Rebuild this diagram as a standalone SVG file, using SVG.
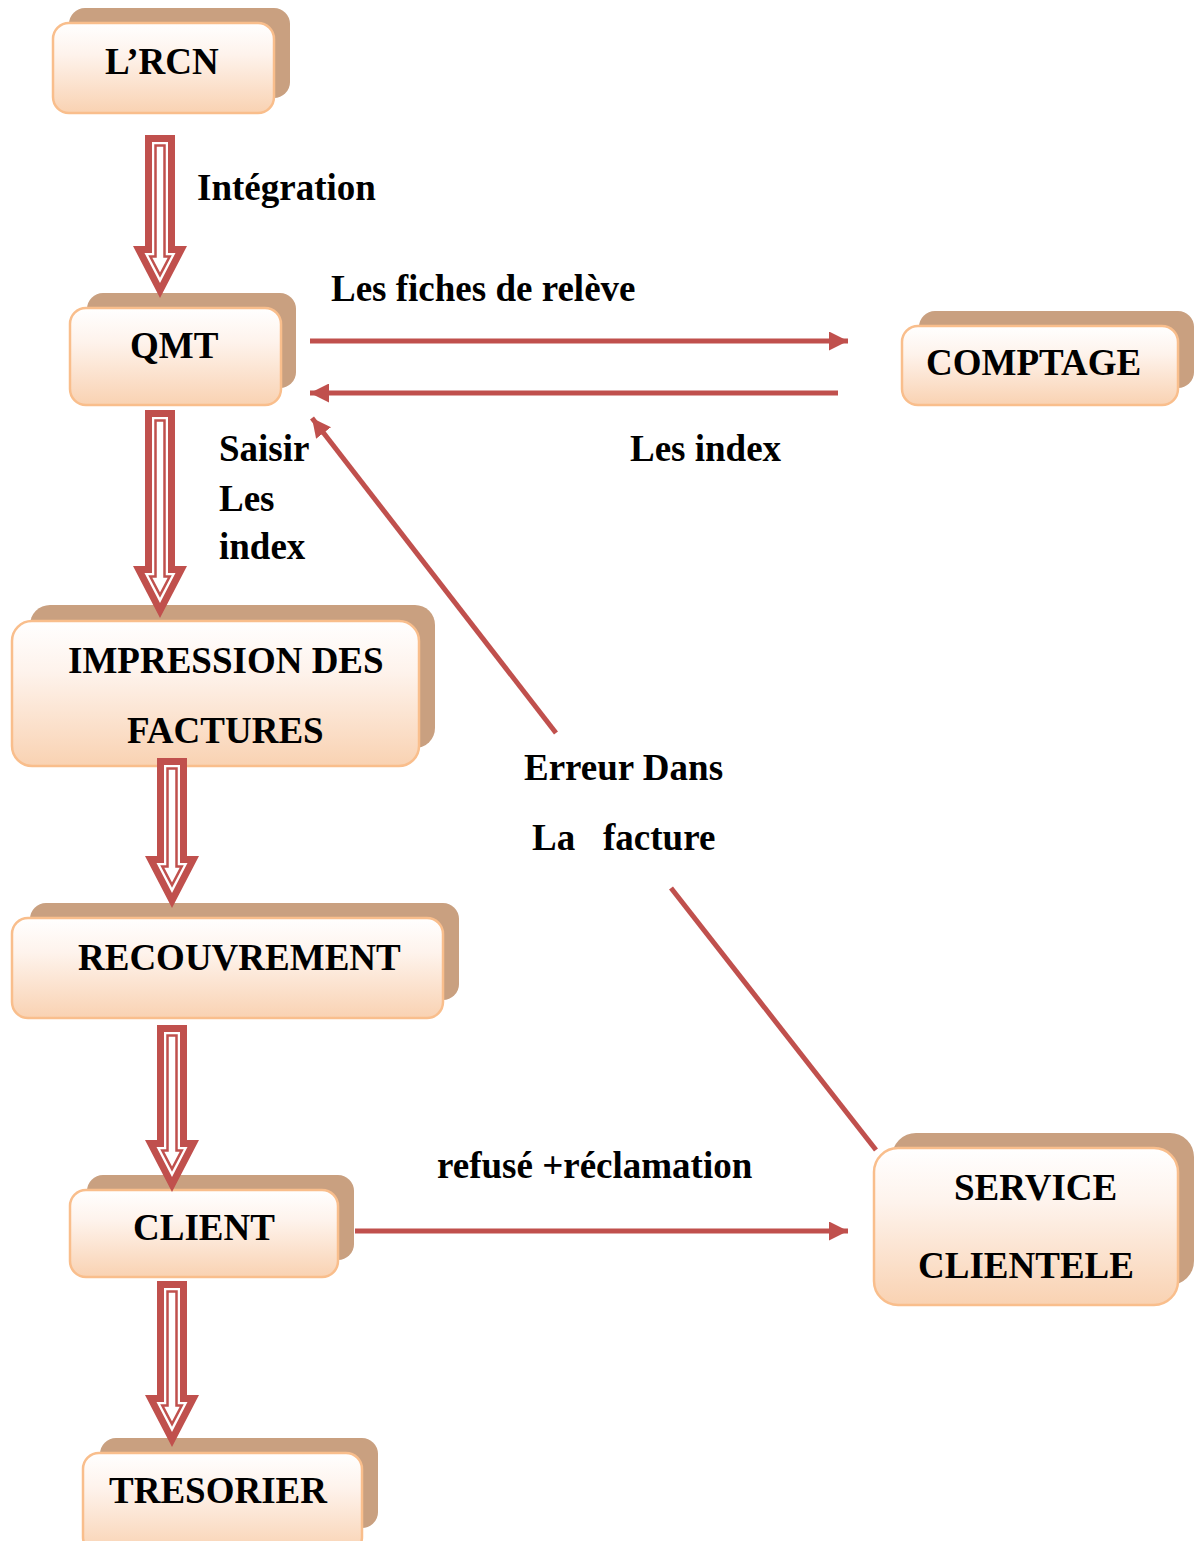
<svg xmlns="http://www.w3.org/2000/svg" width="1194" height="1541" viewBox="0 0 1194 1541">
  <defs>
    <linearGradient id="boxFill" x1="0" y1="0" x2="0" y2="1">
      <stop offset="0" stop-color="#ffffff"/>
      <stop offset="0.35" stop-color="#fef3ec"/>
      <stop offset="1" stop-color="#f9d2b2"/>
    </linearGradient>
    <marker id="head" viewBox="0 0 10 10" refX="10" refY="5" markerWidth="3.8" markerHeight="3.8" orient="auto" markerUnits="strokeWidth">
      <path d="M0,0 L10,5 L0,10 Z" fill="#c0504d"/>
    </marker>
  </defs>
  <style>
    .shadow { fill: #c9a080; }
    .front { fill: url(#boxFill); stroke: #f9be8c; stroke-width: 2.5; }
    .lbl { font-family: "Liberation Serif", "Times New Roman", serif; font-weight: bold; font-size: 37px; fill: #000; }
    .conn { stroke: #c0504d; stroke-width: 5; fill: none; }
    .outer { fill: #c0504d; }
    .inset { fill: #ffffff; }
    .inner { fill: #ffffff; stroke: #c0504d; stroke-width: 2.5; }
  </style>

  <rect width="1194" height="1541" fill="#ffffff"/>

  <!-- nodes -->
  <g id="node-rcn">
    <rect class="shadow" x="69" y="8" width="221" height="90" rx="16"/>
    <rect class="front" x="53" y="23" width="221" height="90" rx="16"/>
    <text class="lbl" x="105" y="74">L’RCN</text>
  </g>
  <g id="node-qmt">
    <rect class="shadow" x="87" y="293" width="209" height="95" rx="16"/>
    <rect class="front" x="70" y="308" width="211" height="97" rx="16"/>
    <text class="lbl" x="130" y="358">QMT</text>
  </g>
  <g id="node-comptage">
    <rect class="shadow" x="919" y="311" width="275" height="77" rx="16"/>
    <rect class="front" x="902" y="326" width="276" height="79" rx="16"/>
    <text class="lbl" x="926" y="375">COMPTAGE</text>
  </g>
  <g id="node-impression">
    <rect class="shadow" x="30" y="605" width="405" height="143" rx="20"/>
    <rect class="front" x="12" y="621" width="407" height="145" rx="20"/>
    <text class="lbl" x="68" y="673">IMPRESSION DES</text>
    <text class="lbl" x="127" y="743">FACTURES</text>
  </g>
  <g id="node-recouvrement">
    <rect class="shadow" x="30" y="903" width="429" height="97" rx="16"/>
    <rect class="front" x="12" y="918" width="431" height="100" rx="16"/>
    <text class="lbl" x="78" y="970">RECOUVREMENT</text>
  </g>
  <g id="node-client">
    <rect class="shadow" x="87" y="1175" width="267" height="85" rx="16"/>
    <rect class="front" x="70" y="1190" width="268" height="87" rx="16"/>
    <text class="lbl" x="133" y="1240">CLIENT</text>
  </g>
  <g id="node-service">
    <rect class="shadow" x="892" y="1133" width="302" height="152" rx="24"/>
    <rect class="front" x="874" y="1148" width="304" height="157" rx="24"/>
    <text class="lbl" x="954" y="1200">SERVICE</text>
    <text class="lbl" x="918" y="1278">CLIENTELE</text>
  </g>
  <g id="node-tresorier">
    <rect class="shadow" x="100" y="1438" width="278" height="90" rx="16"/>
    <rect class="front" x="83" y="1453" width="279" height="100" rx="16"/>
    <text class="lbl" x="109" y="1503">TRESORIER</text>
  </g>

  <!-- connectors (drawn over the boxes) -->
  <g id="connectors">
    <!-- block arrows: red body, white inset, thin red inner outline -->
    <g id="arrow-rcn-qmt">
      <path class="outer" d="M145,135 H175 V246 H187 L160,298 L133,246 H145 Z"/>
      <path class="inset" d="M152,142 H168 V253 H175.5 L160,283 L144.5,253 H152 Z"/>
      <path class="inner" d="M155.5,145.5 H164.5 V256.5 H169.7 L160,275 L150.3,256.5 H155.5 Z"/>
    </g>
    <g id="arrow-qmt-impr">
      <path class="outer" d="M145,410 H175 V566 H187 L160,618 L133,566 H145 Z"/>
      <path class="inset" d="M152,417 H168 V573 H175.5 L160,603 L144.5,573 H152 Z"/>
      <path class="inner" d="M155.5,420.5 H164.5 V576.5 H169.7 L160,595 L150.3,576.5 H155.5 Z"/>
    </g>
    <g id="arrow-impr-recouv">
      <path class="outer" d="M157,758 H187 V856 H199 L172,908 L145,856 H157 Z"/>
      <path class="inset" d="M164,765 H180 V863 H187.5 L172,893 L156.5,863 H164 Z"/>
      <path class="inner" d="M167.5,768.5 H176.5 V866.5 H181.7 L172,885 L162.3,866.5 H167.5 Z"/>
    </g>
    <g id="arrow-recouv-client">
      <path class="outer" d="M157,1025 H187 V1140 H199 L172,1192 L145,1140 H157 Z"/>
      <path class="inset" d="M164,1032 H180 V1147 H187.5 L172,1177 L156.5,1147 H164 Z"/>
      <path class="inner" d="M167.5,1035.5 H176.5 V1150.5 H181.7 L172,1169 L162.3,1150.5 H167.5 Z"/>
    </g>
    <g id="arrow-client-tresorier">
      <path class="outer" d="M157,1281 H187 V1395 H199 L172,1447 L145,1395 H157 Z"/>
      <path class="inset" d="M164,1288 H180 V1402 H187.5 L172,1432 L156.5,1402 H164 Z"/>
      <path class="inner" d="M167.5,1291.5 H176.5 V1405.5 H181.7 L172,1424 L162.3,1405.5 H167.5 Z"/>
    </g>

    <!-- thin connectors -->
    <line class="conn" x1="310" y1="341" x2="848" y2="341" marker-end="url(#head)"/>
    <line class="conn" x1="838" y1="393" x2="310" y2="393" marker-end="url(#head)"/>
    <line class="conn" x1="556" y1="733" x2="312" y2="418" marker-end="url(#head)"/>
    <line class="conn" x1="671" y1="888" x2="876" y2="1150"/>
    <line class="conn" x1="355" y1="1231" x2="848" y2="1231" marker-end="url(#head)"/>
  </g>

  <!-- connector labels -->
  <g id="labels">
    <text class="lbl" x="197" y="200">Intégration</text>
    <text class="lbl" x="331" y="301">Les fiches de relève</text>
    <text class="lbl" x="630" y="461">Les index</text>
    <text class="lbl" x="219" y="461">Saisir</text>
    <text class="lbl" x="219" y="511">Les</text>
    <text class="lbl" x="219" y="559">index</text>
    <text class="lbl" x="524" y="780">Erreur Dans</text>
    <text class="lbl" x="532" y="850">La</text>
    <text class="lbl" x="603" y="850">facture</text>
    <text class="lbl" x="437" y="1178">refusé +réclamation</text>
  </g>
</svg>
